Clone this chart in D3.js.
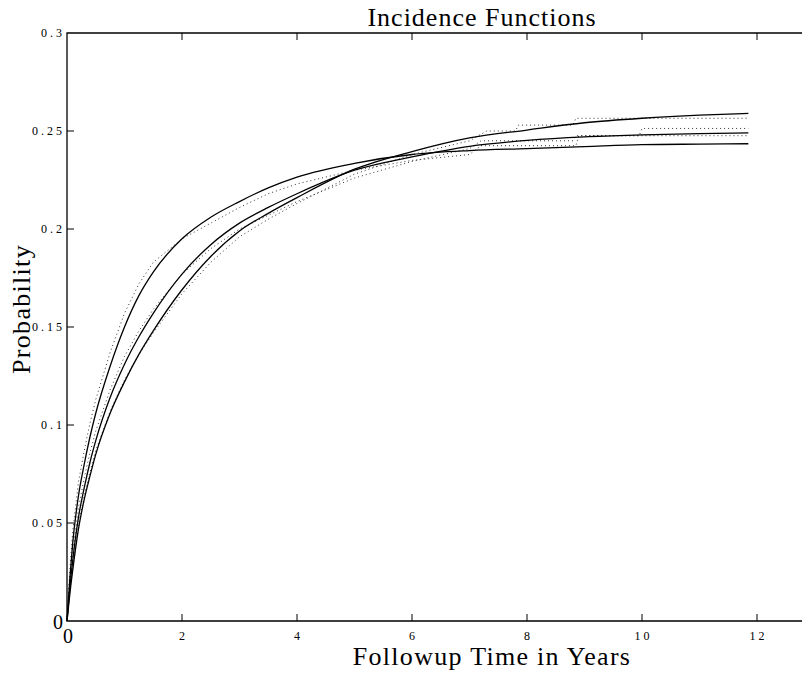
<!DOCTYPE html>
<html>
<head>
<meta charset="utf-8">
<script src="https://cdn.jsdelivr.net/npm/d3@7"></script>
<style>
  body { margin: 0; background: #fff; }
  text { font-family: "Liberation Serif", "DejaVu Serif", serif; fill: #000; }
  .fit { fill: none; stroke: #000; stroke-width: 1.3; }
  .emp { fill: none; stroke: #333; stroke-width: 1; stroke-dasharray: 1,3; }
</style>
</head>
<body>
<div id="chart"></div>
<script>
// fitted curves (years, probability)
const fitYears = [0, 0.05, 0.1, 0.2, 0.3, 0.4, 0.5, 0.75, 1, 1.25, 1.5, 2, 2.5, 3, 3.5, 4, 5, 6, 7, 8, 9, 10, 11, 11.85];
const fitA = [0, 0.022, 0.040, 0.064, 0.080, 0.094, 0.106, 0.130, 0.150, 0.166, 0.178, 0.195, 0.206, 0.214, 0.221, 0.2265, 0.2335, 0.238, 0.240, 0.241, 0.242, 0.243, 0.2433, 0.2435];
const fitB = [0, 0.017, 0.031, 0.053, 0.068, 0.081, 0.092, 0.114, 0.131, 0.145, 0.157, 0.177, 0.192, 0.203, 0.211, 0.218, 0.230, 0.2368, 0.2422, 0.2452, 0.2470, 0.2480, 0.2487, 0.249];
const fitC = [0, 0.014, 0.026, 0.047, 0.062, 0.074, 0.085, 0.106, 0.122, 0.136, 0.148, 0.169, 0.186, 0.199, 0.208, 0.216, 0.2305, 0.2395, 0.2465, 0.2505, 0.2542, 0.2565, 0.2581, 0.259];

// empirical estimates, [years, probability]
const empA = [[0, 0], [0.05, 0.026], [0.1, 0.046], [0.2, 0.071], [0.3, 0.087], [0.4, 0.101], [0.5, 0.113], [0.75, 0.137], [1, 0.157], [1.25, 0.172], [1.5, 0.183], [2, 0.195], [2.5, 0.203], [3, 0.211], [3.5, 0.218], [4, 0.223], [5, 0.230], [6, 0.235], [7, 0.238], [7.2, 0.2425], [8.85, 0.2425], [8.9, 0.2476], [11.85, 0.2476]];
const empB = [[0, 0], [0.05, 0.02], [0.1, 0.035], [0.2, 0.058], [0.3, 0.073], [0.4, 0.086], [0.5, 0.097], [0.75, 0.118], [1, 0.135], [1.25, 0.148], [1.5, 0.159], [2, 0.177], [2.5, 0.190], [3, 0.200], [3.5, 0.207], [4, 0.214], [5, 0.226], [6, 0.2345], [7, 0.241], [7.2, 0.245], [8.8, 0.245], [8.85, 0.2476], [9.95, 0.2476], [10, 0.2513], [11.85, 0.2513]];
const empC = [[0, 0], [0.05, 0.016], [0.1, 0.028], [0.2, 0.049], [0.3, 0.064], [0.4, 0.076], [0.5, 0.087], [0.75, 0.107], [1, 0.123], [1.25, 0.136], [1.5, 0.147], [2, 0.167], [2.5, 0.183], [3, 0.196], [3.5, 0.205], [4, 0.213], [5, 0.228], [6, 0.238], [7, 0.245], [7.3, 0.250], [7.8, 0.250], [7.85, 0.253], [8.8, 0.253], [8.85, 0.2565], [11.85, 0.2565]];

const xTicks = [0, 2, 4, 6, 8, 10, 12];
const yTicks = [0, 0.05, 0.1, 0.15, 0.2, 0.25, 0.3];
const yTickLabels = ["0", "0.05", "0.1", "0.15", "0.2", "0.25", "0.3"];

const width = 802, height = 674;
const plot = { left: 67, top: 33, bottom: 621 };

const svg = d3.select("#chart").append("svg")
  .attr("width", width).attr("height", height);

const x = d3.scaleLinear().domain([0, 12]).range([plot.left, plot.left + 690]);
const y = d3.scaleLinear().domain([0, 0.3]).range([plot.bottom, plot.top]);

// frame (right edge falls outside the window)
svg.append("path")
  .attr("d", `M${width + 5},${plot.top}H${plot.left}V${plot.bottom}H${width + 5}`)
  .attr("fill", "none").attr("stroke", "#000").attr("stroke-width", 1.3);

// ticks
const tk = svg.append("g").attr("stroke", "#000").attr("stroke-width", 1);
xTicks.slice(1).forEach(t => {
  tk.append("line").attr("x1", x(t)).attr("x2", x(t)).attr("y1", plot.bottom).attr("y2", plot.bottom - 7);
  tk.append("line").attr("x1", x(t)).attr("x2", x(t)).attr("y1", plot.top).attr("y2", plot.top + 7);
});
yTicks.slice(1, -1).forEach(v => {
  tk.append("line").attr("x1", plot.left).attr("x2", plot.left + 7).attr("y1", y(v)).attr("y2", y(v));
});

// tick labels
svg.append("g").selectAll("text").data(xTicks).join("text")
  .attr("x", d => d === 0 ? x(d) + 1 : x(d) + 1.5).attr("y", d => d === 0 ? 643 : 640)
  .attr("text-anchor", "middle")
  .attr("font-size", d => d === 0 ? 20 : 12)
  .attr("letter-spacing", d => d === 0 ? 0 : 3)
  .text(d => d);
svg.append("g").selectAll("text").data(yTicks).join("text")
  .attr("x", d => d === 0 ? 63 : 65).attr("y", d => d === 0 ? y(d) + 8 : y(d) + 4)
  .attr("text-anchor", "end")
  .attr("font-size", d => d === 0 ? 20 : 12)
  .attr("letter-spacing", d => d === 0 ? 0 : 3)
  .text((d, i) => yTickLabels[i]);

// curves
const fitLine = d3.line().x(d => x(d[0])).y(d => y(d[1])).curve(d3.curveMonotoneX);
const empLine = d3.line().x(d => x(d[0])).y(d => y(d[1]));

[empA, empB, empC].forEach(pts => {
  svg.append("path").attr("class", "emp").attr("d", empLine(pts));
});
[fitA, fitB, fitC].forEach(vals => {
  svg.append("path").attr("class", "fit")
    .attr("d", fitLine(fitYears.map((t, i) => [t, vals[i]])));
});

// titles
svg.append("text").attr("x", 482).attr("y", 26).attr("text-anchor", "middle")
  .attr("font-size", 26).attr("letter-spacing", 1).text("Incidence Functions");
svg.append("text").attr("x", 492).attr("y", 665).attr("text-anchor", "middle")
  .attr("font-size", 26).attr("letter-spacing", 1.3).text("Followup Time in Years");
svg.append("text").attr("transform", "translate(30,309) rotate(-90)")
  .attr("text-anchor", "middle").attr("font-size", 26).attr("letter-spacing", 1.3).text("Probability");
</script>
</body>
</html>
